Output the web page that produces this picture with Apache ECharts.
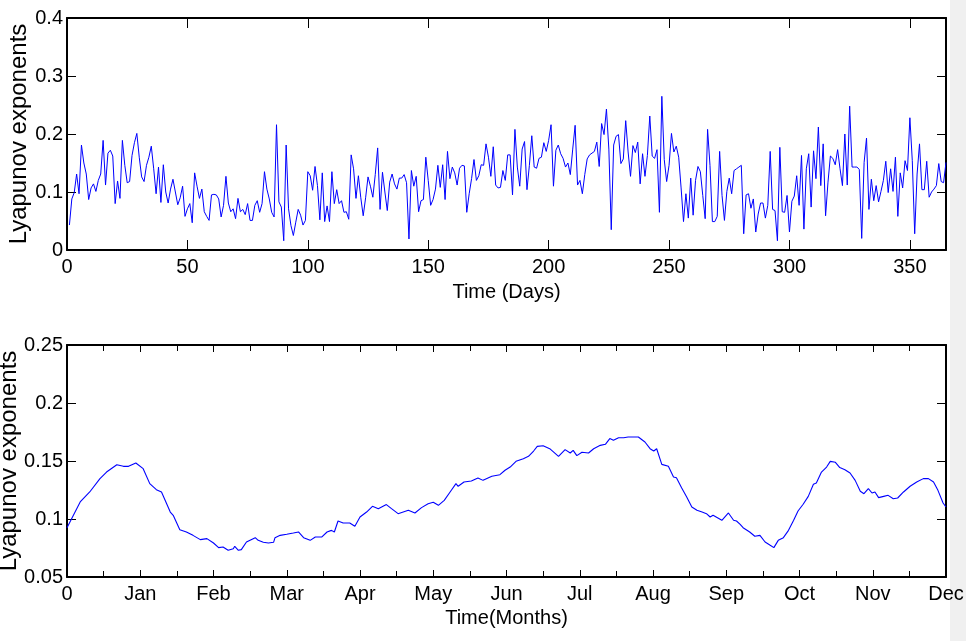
<!DOCTYPE html>
<html><head><meta charset="utf-8">
<script src="https://cdn.jsdelivr.net/npm/echarts@6/dist/echarts.min.js"></script>
<style>html,body{margin:0;padding:0;background:#fff}#c{width:966px;height:641px}</style>
</head><body><div id="c"></div>
<script>
// ---- Top panel: daily Lyapunov exponents, days 1..365 ----
const dailyLyapunov = [
0.043,0.088,0.099,0.131,0.097,0.181,0.150,0.131,0.087,0.107,
0.114,0.101,0.120,0.131,0.189,0.112,0.167,0.172,0.162,0.080,
0.119,0.089,0.189,0.146,0.116,0.118,0.163,0.185,0.201,0.160,
0.126,0.118,0.146,0.160,0.179,0.140,0.097,0.143,0.082,0.147,
0.100,0.081,0.105,0.122,0.100,0.078,0.090,0.110,0.058,0.071,
0.080,0.047,0.133,0.110,0.089,0.105,0.066,0.058,0.051,0.095,
0.096,0.095,0.088,0.057,0.077,0.127,0.081,0.066,0.071,0.054,
0.089,0.066,0.070,0.061,0.080,0.051,0.051,0.077,0.085,0.065,
0.080,0.135,0.105,0.088,0.065,0.057,0.216,0.083,0.074,0.016,
0.181,0.071,0.042,0.025,0.048,0.070,0.060,0.043,0.051,0.135,
0.128,0.103,0.144,0.111,0.052,0.133,0.049,0.076,0.049,0.135,
0.080,0.104,0.080,0.085,0.065,0.066,0.053,0.164,0.140,0.089,
0.128,0.090,0.059,0.090,0.126,0.110,0.091,0.130,0.176,0.070,
0.134,0.100,0.068,0.117,0.131,0.114,0.105,0.124,0.124,0.130,
0.116,0.019,0.137,0.110,0.127,0.066,0.085,0.087,0.160,0.120,
0.077,0.087,0.105,0.146,0.108,0.147,0.087,0.170,0.123,0.143,
0.133,0.112,0.141,0.146,0.145,0.065,0.097,0.123,0.156,0.120,
0.128,0.147,0.146,0.183,0.160,0.127,0.178,0.112,0.107,0.108,
0.137,0.120,0.164,0.164,0.095,0.208,0.143,0.110,0.174,0.187,
0.104,0.146,0.197,0.143,0.141,0.158,0.160,0.185,0.170,0.189,
0.216,0.110,0.172,0.181,0.166,0.158,0.143,0.150,0.130,0.174,
0.215,0.112,0.120,0.097,0.130,0.157,0.164,0.167,0.170,0.186,
0.144,0.218,0.199,0.243,0.174,0.035,0.181,0.196,0.199,0.149,
0.157,0.223,0.169,0.127,0.180,0.168,0.186,0.114,0.166,0.127,
0.163,0.231,0.162,0.158,0.173,0.065,0.265,0.156,0.118,0.146,
0.201,0.169,0.179,0.160,0.107,0.049,0.097,0.055,0.124,0.060,
0.120,0.144,0.135,0.094,0.054,0.208,0.146,0.049,0.049,0.058,
0.170,0.094,0.051,0.101,0.124,0.097,0.137,0.140,0.143,0.146,
0.028,0.095,0.097,0.072,0.088,0.031,0.062,0.081,0.081,0.055,
0.077,0.170,0.070,0.068,0.016,0.177,0.066,0.065,0.094,0.031,
0.084,0.093,0.128,0.077,0.163,0.036,0.140,0.166,0.074,0.171,
0.123,0.212,0.111,0.183,0.059,0.117,0.162,0.158,0.147,0.173,
0.140,0.111,0.200,0.112,0.248,0.143,0.143,0.143,0.139,0.020,
0.151,0.193,0.070,0.122,0.085,0.111,0.083,0.101,0.120,0.153,
0.099,0.140,0.101,0.160,0.058,0.133,0.107,0.154,0.137,0.228,
0.154,0.028,0.131,0.183,0.104,0.104,0.153,0.091,0.100,0.105,
0.111,0.149,0.118,0.116,0.151
];

// ---- Bottom panel: smoothed series against month position (0..12) ----
const monthPositions = [
0,0.18,0.31,0.45,0.54,0.68,0.77,0.84,0.94,1.04,1.13,1.22,1.29,1.41,1.45,1.54,1.63,1.72,1.82,1.91,
2.0,2.07,2.13,2.2,2.27,2.29,2.34,2.38,2.45,2.57,2.61,2.68,2.75,2.82,2.84,2.91,3.0,3.09,3.16,3.23,
3.32,3.39,3.48,3.55,3.61,3.65,3.70,3.77,3.86,3.93,4.0,4.09,4.17,4.25,4.36,4.43,4.52,4.66,4.75,4.84,
4.93,5.0,5.07,5.15,5.23,5.31,5.34,5.42,5.52,5.61,5.68,5.80,5.91,5.98,6.05,6.13,6.23,6.30,6.37,6.42,
6.50,6.59,6.71,6.80,6.87,6.91,6.96,7.03,7.12,7.19,7.28,7.35,7.41,7.46,7.53,7.60,7.66,7.80,7.89,7.96,
8.01,8.05,8.12,8.21,8.28,8.32,8.39,8.46,8.53,8.6,8.67,8.73,8.78,8.82,8.94,9.03,9.1,9.14,9.19,9.23,
9.32,9.39,9.46,9.53,9.60,9.65,9.71,9.78,9.85,9.92,9.98,10.05,10.12,10.19,10.23,10.30,10.37,10.42,10.49,10.55,
10.62,10.69,10.76,10.83,10.88,10.94,10.99,11.03,11.08,11.15,11.21,11.28,11.34,11.42,11.51,11.60,11.69,11.76,11.83,11.89,
11.96,12.0
];
const monthlyLyapunov = [
0.0925,0.1147,0.1233,0.1348,0.1405,0.1468,0.1454,0.1454,0.1483,0.1434,0.1305,0.1253,0.1233,0.106,0.1032,0.0908,0.0888,0.0859,0.0822,0.0831,
0.0793,0.0753,0.0759,0.073,0.0744,0.0765,0.073,0.0736,0.0802,0.0839,0.0816,0.0799,0.0793,0.0799,0.0839,0.0859,0.0868,0.0879,0.0888,0.0839,
0.0816,0.0845,0.0845,0.0888,0.0902,0.0888,0.0983,0.0966,0.0966,0.0937,0.1017,0.106,0.1109,0.1089,0.1124,0.1089,0.1046,0.1075,0.1052,0.1098,
0.1132,0.1144,0.1118,0.1161,0.1233,0.1305,0.1282,0.1319,0.1328,0.1354,0.1333,0.1368,0.1382,0.1420,0.1448,0.1497,0.1520,0.1540,0.1586,0.1626,
0.1632,0.1606,0.1540,0.1598,0.1569,0.1592,0.1546,0.1575,0.1569,0.1606,0.1635,0.1644,0.1693,0.1678,0.1701,0.1701,0.1707,0.1707,0.1664,0.1606,
0.1586,0.1606,0.1471,0.1454,0.1362,0.1356,0.127,0.119,0.1103,0.1075,0.106,0.1046,0.1017,0.1032,0.0989,0.1052,0.0989,0.0983,0.0954,0.0925,
0.0888,0.0851,0.0859,0.0802,0.0773,0.0753,0.0816,0.0839,0.0902,0.0989,0.1069,0.1127,0.1195,0.1299,0.1310,0.1405,0.1448,0.1497,0.1489,0.1443,
0.1425,0.1397,0.1333,0.1239,0.1218,0.1262,0.1224,0.1233,0.1184,0.1195,0.1204,0.1175,0.1181,0.1233,0.1282,0.1319,0.1348,0.1348,0.1319,0.1247,
0.1138,0.1103
];
const monthTickLabels = ['0','Jan','Feb','Mar','Apr','May','Jun','Jul','Aug','Sep','Oct','Nov','Dec'];
const yTitle = 'Lyapunov exponents';
const xTitleTop = 'Time (Days)';
const xTitleBottom = 'Time(Months)';

const FONT_H = "'Liberation Sans',Arial,sans-serif";
const FONT_V = "'Liberation Sans',Arial,sans-serif";
const labelStyle = {color:'#000', fontFamily:FONT_H, fontSize:20};
const axisLineStyle = {show:true, onZero:false, lineStyle:{color:'#000', width:2}};

function xAx(grid, pos, min, max, interval, opts) {
  const a = {
    type:'value', gridIndex:grid, position:pos, min:min, max:max, interval:interval,
    axisLine:axisLineStyle,
    axisTick:{show:true, inside:true, length:opts.tickLen, lineStyle:{color:'#000', width:1}},
    minorTick:opts.minor ? {show:true, splitNumber:2, length:opts.tickLen-1, lineStyle:{color:'#000', width:1}} : {show:false},
    splitLine:{show:false},
    axisLabel: pos==='bottom' ? Object.assign({show:true, margin:7, showMaxLabel:opts.showMax, formatter:opts.fmt}, labelStyle) : {show:false}
  };
  if (pos==='bottom') {
    a.name = opts.name; a.nameLocation='middle'; a.nameGap = opts.nameGap; a.nameMoveOverlap = false;
    a.nameTextStyle = {color:'#000', fontFamily:FONT_H, fontSize:20};
  }
  return a;
}
function yAx(grid, pos, min, max, interval, opts) {
  const a = {
    type:'value', gridIndex:grid, position:pos, min:min, max:max, interval:interval,
    axisLine:axisLineStyle,
    axisTick:{show:true, inside:true, length:9, lineStyle:{color:'#000', width:1}},
    splitLine:{show:false},
    axisLabel: pos==='left' ? Object.assign({show:true, margin:4, formatter:opts.fmt}, labelStyle) : {show:false}
  };
  if (pos==='left') {
    a.name = yTitle; a.nameLocation='middle'; a.nameGap = opts.nameGap; a.nameMoveOverlap = false;
    a.nameTextStyle = {color:'#000', fontFamily:FONT_V, fontSize:24};
  }
  return a;
}

const topData = dailyLyapunov.map((v,i)=>[i+1, v]);
const bottomData = monthPositions.map((m,i)=>[m, monthlyLyapunov[i]]);

const chart = echarts.init(document.getElementById('c'), null, {renderer:'canvas'});
chart.setOption({
  animation:false,
  backgroundColor:'#fff',
  graphic:[{type:'rect', left:950, top:0, z:-10, shape:{width:16, height:641}, style:{fill:'#f0f0f0'}}],
  grid:[
    {left:67, right:20, top:18, height:232, containLabel:false, outerBoundsMode:'none'},
    {left:67, right:20, top:345, height:232, containLabel:false, outerBoundsMode:'none'}
  ],
  xAxis:[
    xAx(0,'bottom',0,365,50,{tickLen:10, name:xTitleTop, nameGap:32, showMax:false, fmt:v=>(v===365?'':String(v))}),
    xAx(0,'top',0,365,50,{tickLen:10}),
    xAx(1,'bottom',0,12,1,{tickLen:7, minor:true, name:xTitleBottom, nameGap:31, showMax:true, fmt:v=>monthTickLabels[Math.round(v)]}),
    xAx(1,'top',0,12,1,{tickLen:7, minor:true})
  ],
  yAxis:[
    yAx(0,'left',0,0.4,0.1,{nameGap:36, fmt:v=>String(+v.toFixed(1))}),
    yAx(0,'right',0,0.4,0.1,{}),
    yAx(1,'left',0.05,0.25,0.05,{nameGap:46, fmt:v=>String(+v.toFixed(2))}),
    yAx(1,'right',0.05,0.25,0.05,{})
  ],
  series:[
    {type:'line', xAxisIndex:0, yAxisIndex:0, data:topData, showSymbol:false, symbol:'none',
     lineStyle:{color:'#0000ff', width:1}, itemStyle:{color:'#0000ff'}, clip:true},
    {type:'line', xAxisIndex:2, yAxisIndex:2, data:bottomData, showSymbol:false, symbol:'none',
     lineStyle:{color:'#0000ff', width:1.1}, itemStyle:{color:'#0000ff'}, clip:true}
  ]
});
</script></body></html>
